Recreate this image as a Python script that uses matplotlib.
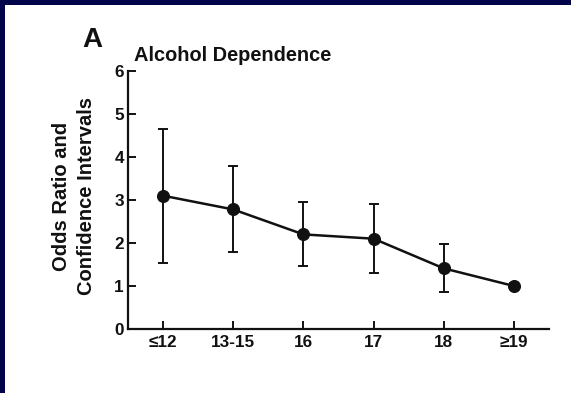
import matplotlib.pyplot as plt
from matplotlib.patches import Rectangle

plt.rcParams['font.family'] = ['Liberation Sans', 'DejaVu Sans']
plt.rcParams['font.weight'] = 'bold'

# Age at first drink vs. odds of alcohol dependence
age_groups = ['\u226412', '13-15', '16', '17', '18', '\u226519']
odds_ratio = [3.1, 2.78, 2.2, 2.1, 1.41, 1.0]
ci_lower = [1.54, 1.78, 1.47, 1.31, 0.86, 0.92]
ci_upper = [4.65, 3.80, 2.95, 2.90, 1.97, 1.08]
y_ticks = [0, 1, 2, 3, 4, 5, 6]

W, H = 571, 393
navy = '#03034a'
ink = '#111111'

fig = plt.figure(figsize=(W / 100, H / 100), dpi=100, facecolor=navy)
# white panel, navy shows only along top and left edges
fig.patches.append(Rectangle((5 / W, 0), 1, 1 - 5 / H, transform=fig.transFigure,
                             facecolor='white', edgecolor='none', zorder=-1))

ax = fig.add_axes([128 / W, 64 / H, 421 / W, 258 / H])
ax.set_facecolor('none')
ax.set_zorder(2)

x = list(range(len(age_groups)))
err_low = [o - lo for o, lo in zip(odds_ratio, ci_lower)]
err_high = [hi - o for o, hi in zip(odds_ratio, ci_upper)]

ax.errorbar(x, odds_ratio, yerr=[err_low, err_high], fmt='none',
            ecolor=ink, elinewidth=1.4, capsize=3.3, capthick=1.4, zorder=2)
ax.plot(x, odds_ratio, color=ink, lw=1.8, marker='o', ms=8.4, mew=1,
        markerfacecolor=ink, markeredgecolor=ink, zorder=3)

ax.set_xlim(-0.5, 5.5)
ax.set_ylim(0, 6)
ax.set_xticks(x)
ax.set_xticklabels(age_groups)
ax.set_yticks(y_ticks)

for side in ['top', 'right']:
    ax.spines[side].set_visible(False)
for side in ['left', 'bottom']:
    ax.spines[side].set_linewidth(1.6)
    ax.spines[side].set_color(ink)

ax.tick_params(direction='in', length=5.5, width=1.4, colors=ink,
               labelsize=12.3)
ax.tick_params(axis='x', pad=4)
ax.tick_params(axis='y', pad=3)

fig.text(134 / W, 1 - 55.5 / H, 'Alcohol Dependence', fontsize=14.4,
         fontweight='bold', ha='left', va='center', color=ink, zorder=3)
fig.text(92 / W, 1 - 40 / H, 'A', fontsize=20, fontweight='bold',
         ha='center', va='center', color=ink, zorder=3)
fig.text(74 / W, 1 - 196 / H, 'Odds Ratio and\nConfidence Intervals',
         fontsize=14.5, fontweight='bold', rotation=90, ha='center',
         va='center', multialignment='center', linespacing=1.4,
         color=ink, zorder=3)

fig.savefig('out.png', dpi=100, facecolor=navy)
